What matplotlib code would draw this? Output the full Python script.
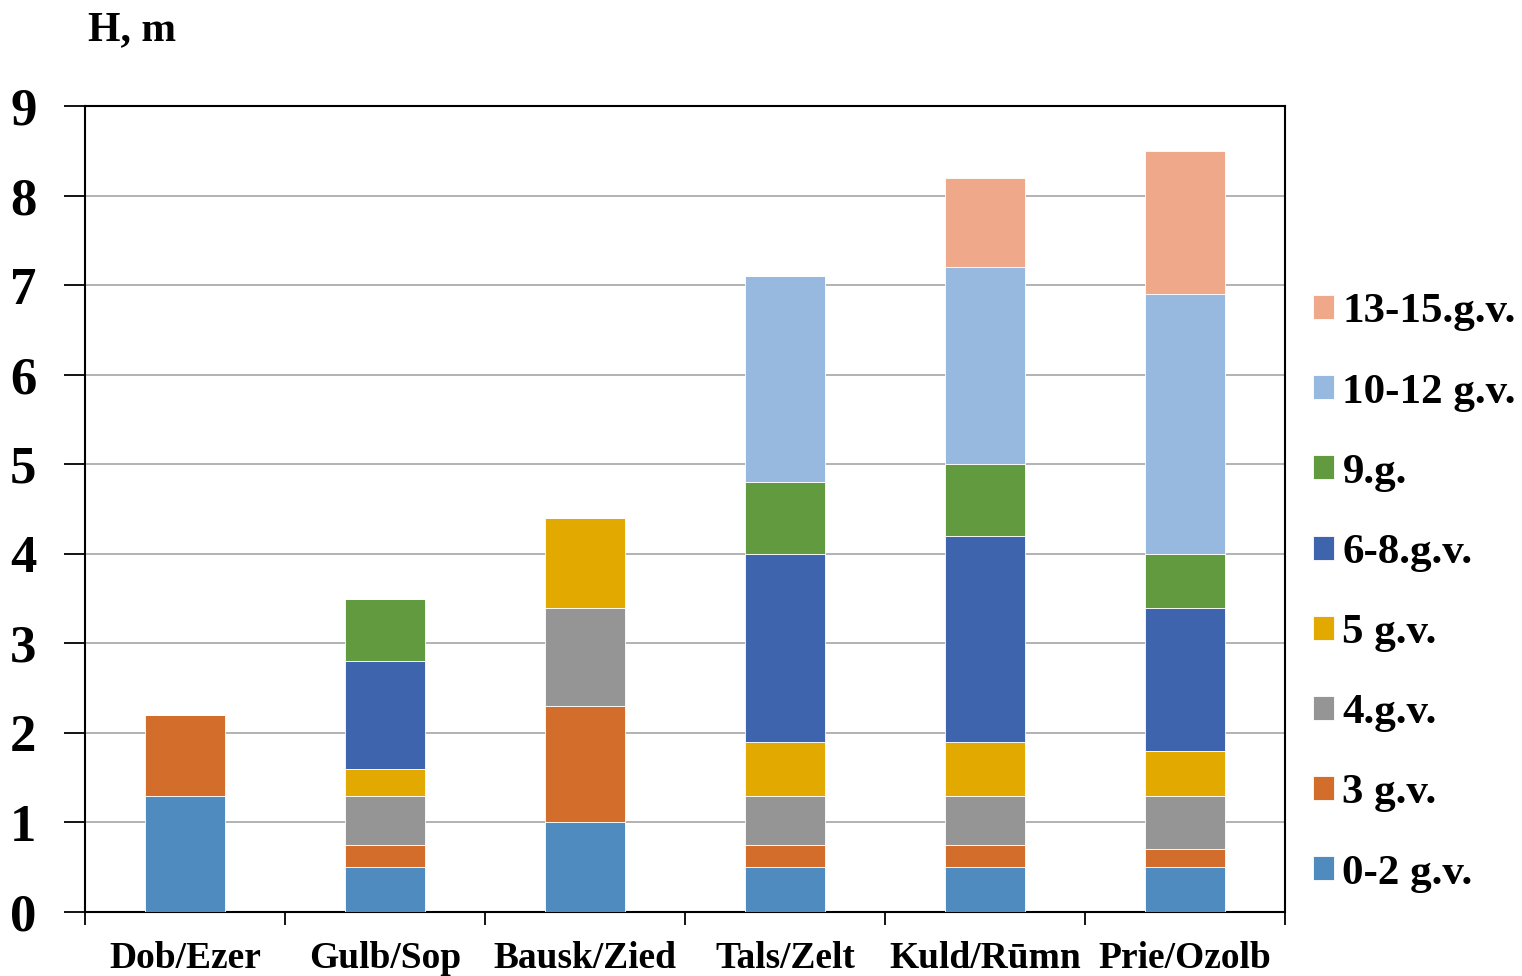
import numpy as np
import matplotlib
matplotlib.use("Agg")
import matplotlib.pyplot as plt

# datos de las columnas apiladas (altura en metros)
kategorijas = ["Dob/Ezer", "Gulb/Sop", "Bausk/Zied", "Tals/Zelt", "Kuld/Rūmn", "Prie/Ozolb"]
serijas = ["0-2 g.v.", "3 g.v.", "4.g.v.", "5 g.v.", "6-8.g.v.", "9.g.", "10-12 g.v.", "13-15.g.v."]

v_0_2 = [1.3, 0.5, 1.0, 0.5, 0.5, 0.5]
v_3 = [0.9, 0.25, 1.3, 0.25, 0.25, 0.2]
v_4 = [0.0, 0.55, 1.1, 0.55, 0.55, 0.6]
v_5 = [0.0, 0.3, 1.0, 0.6, 0.6, 0.5]
v_6_8 = [0.0, 1.2, 0.0, 2.1, 2.3, 1.6]
v_9 = [0.0, 0.7, 0.0, 0.8, 0.8, 0.6]
v_10_12 = [0.0, 0.0, 0.0, 2.3, 2.2, 2.9]
v_13_15 = [0.0, 0.0, 0.0, 0.0, 1.0, 1.6]

vertibas = [v_0_2, v_3, v_4, v_5, v_6_8, v_9, v_10_12, v_13_15]
krasas = ["#4F8BBE", "#D26D2C", "#959595", "#E2A900", "#3D64AC",
          "#629B3F", "#98B9DF", "#F0A88A"]

plt.rcParams["font.family"] = ["Liberation Serif", "DejaVu Serif"]
plt.rcParams["font.weight"] = "bold"

fig = plt.figure(figsize=(15.22, 9.76), dpi=100)
ax = fig.add_axes([85 / 1522, 64 / 976, 1200 / 1522, 806 / 976])

x = np.arange(len(kategorijas))
apaksa = np.zeros(len(kategorijas))
rokturi = []
for nosaukums, vals, kr in zip(serijas, vertibas, krasas):
    vals = np.array(vals)
    b = ax.bar(x, vals, 0.4, bottom=apaksa, color=kr, edgecolor="white",
               linewidth=0.6, label=nosaukums, zorder=3)
    rokturi.append(b)
    apaksa += vals

ax.set_xlim(-0.5, len(kategorijas) - 0.5)
ax.set_ylim(0, 9)
ax.set_yticks(range(0, 10))
ax.set_yticklabels([str(i) for i in range(0, 10)], fontsize=38, fontweight="bold")
ax.yaxis.grid(True, color="#A6A6A6", linewidth=1.2, zorder=0)
ax.set_axisbelow(True)

# marcas del eje x entre categorías
ax.set_xticks(np.arange(-0.5, len(kategorijas), 1.0))
ax.set_xticklabels([])
ax.set_xticks(x, minor=True)
ax.set_xticklabels(kategorijas, minor=True, fontsize=27, fontweight="bold")
ax.tick_params(axis="x", which="minor", length=0, pad=21)
ax.tick_params(axis="x", which="major", length=9, width=1.3, direction="out")
ax.tick_params(axis="y", length=15, width=1.3, direction="out", pad=20, colors="black")

for s in ax.spines.values():
    s.set_linewidth(1.5)
    s.set_color("black")

fig.text(88 / 1522, 1 - 30 / 976, "H, m", fontsize=30, fontweight="bold",
         va="center", ha="left")

leg = fig.legend(handles=rokturi[::-1], labels=serijas[::-1],
                 loc="center left", bbox_to_anchor=(1296 / 1522, 1 - 593 / 976),
                 frameon=False, fontsize=31, handlelength=0.48, handleheight=0.48,
                 handletextpad=0.2, labelspacing=0.98, borderaxespad=0)
for t in leg.get_texts():
    t.set_fontweight("bold")

fig.savefig("out.png", dpi=100)
